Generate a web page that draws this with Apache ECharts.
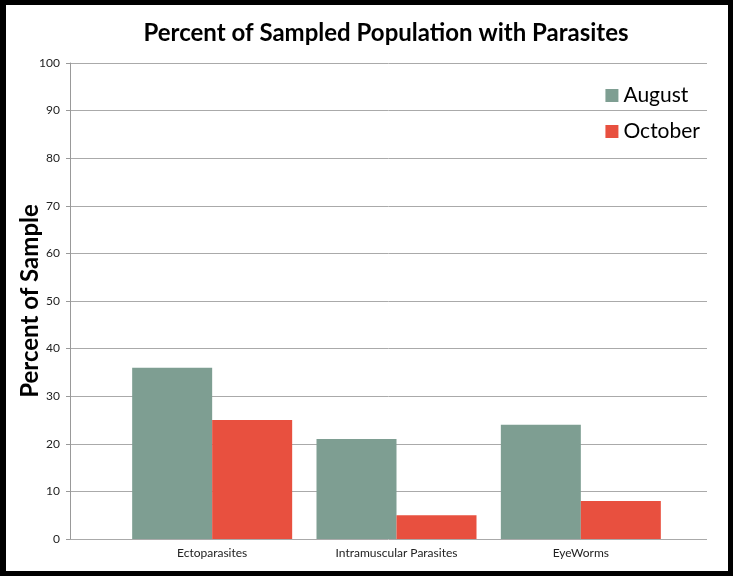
<!DOCTYPE html>
<html><head><meta charset="utf-8">
<script src="https://cdn.jsdelivr.net/npm/echarts@6/dist/echarts.min.js"></script>
<style>
html,body{margin:0;padding:0;background:#000;}
#frame{position:absolute;left:0;top:0;width:733px;height:576px;background:#000;}
#c{position:absolute;left:6px;top:5px;width:722px;height:566px;background:#fff;}
</style></head>
<body><div id="frame"><div id="c"></div></div>
<script>
const categories = ['Ectoparasites', 'Intramuscular Parasites', 'EyeWorms'];
const august = [36, 21, 24];
const october = [25, 5, 8];
const yTicks = [0, 10, 20, 30, 40, 50, 60, 70, 80, 90, 100];

const chart = echarts.init(document.getElementById('c'));
// container offset: left 6, top 5
const OX = 6, OY = 5;
chart.setOption({
  animation: false,
  title: {
    text: 'Percent of Sampled Population with Parasites',
    left: 386 - OX - 5, top: 16 - OY, textAlign: 'center',
    textStyle: {fontFamily: 'Lato', fontWeight: 'bold', fontSize: 24, color: '#000'}
  },
  legend: {
    orient: 'vertical', right: 728 - 705, top: 80 - OY,
    itemWidth: 13, itemHeight: 13, itemGap: 15, icon: 'rect',
    textStyle: {fontFamily: 'Lato', fontSize: 21, color: '#000'},
    data: ['August', 'October']
  },
  grid: [
    {left: 70 - OX, right: 728 - 707, top: 63 - OY, bottom: 571 - 539, containLabel: false, outerBoundsMode: 'none'},
    {left: 120 - OX, right: 728 - 673, top: 63 - OY, bottom: 571 - 539, containLabel: false, outerBoundsMode: 'none'}
  ],
  xAxis: [
    {type: 'category', gridIndex: 0, data: categories,
     axisLine: {show: false}, axisTick: {show: false}, axisLabel: {show: false}},
    {type: 'category', gridIndex: 1, data: categories,
     axisLine: {show: false}, axisTick: {show: false},
     axisLabel: {fontFamily: 'Lato', fontSize: 12, color: '#222', margin: 8}}
  ],
  yAxis: [
    {type: 'value', gridIndex: 0, min: 0, max: 100, interval: 10,
     axisLine: {show: true, lineStyle: {color: '#999', width: 1}},
     axisTick: {show: true, length: 4, lineStyle: {color: '#999'}},
     axisLabel: {fontFamily: 'Lato', fontSize: 12, color: '#222', margin: 10,
       formatter: v => yTicks.includes(v) ? String(v) : ''},
     splitLine: {show: true, lineStyle: {color: '#aaa', width: 1}},
     name: 'Percent of Sample', nameLocation: 'middle', nameGap: 28, nameMoveOverlap: false,
     nameTextStyle: {fontFamily: 'Lato', fontWeight: 'bold', fontSize: 24, color: '#000'}},
    {type: 'value', gridIndex: 1, min: 0, max: 100, interval: 10, show: false}
  ],
  series: [
    {name: 'August', type: 'bar', xAxisIndex: 1, yAxisIndex: 1, data: august,
     barWidth: 80, barGap: '0%', itemStyle: {color: '#7E9E92'}},
    {name: 'October', type: 'bar', xAxisIndex: 1, yAxisIndex: 1, data: october,
     barWidth: 80, barGap: '0%', itemStyle: {color: '#E8503F'}}
  ]
});
</script></body></html>
